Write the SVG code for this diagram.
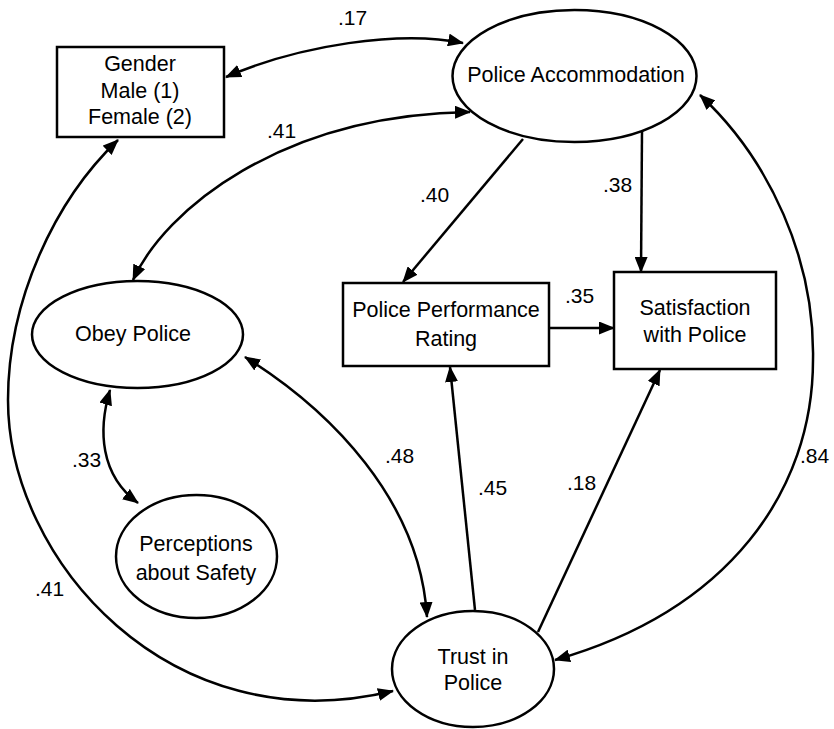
<svg xmlns="http://www.w3.org/2000/svg" width="834" height="729" viewBox="0 0 834 729">
<style>
.n{fill:#fff;stroke:#000;stroke-width:2.5}
.t{font-family:"Liberation Sans",Arial,Helvetica,sans-serif;font-size:21.5px;fill:#000;text-anchor:middle}
.l{font-family:"Liberation Sans",Arial,Helvetica,sans-serif;font-size:21px;fill:#000}
.c{fill:none;stroke:#000;stroke-width:2.5}
</style>
<defs>
<marker id="ah" viewBox="0 0 16 13" refX="15" refY="6.5" markerWidth="16" markerHeight="13" orient="auto-start-reverse" markerUnits="userSpaceOnUse">
<path d="M0,0 L16,6.5 L0,13 z" fill="#000"/>
</marker>
</defs>
<rect width="834" height="729" fill="#fff"/>
<g id="connectors">
<path class="c" d="M226,77 C300,45 400,30 463,43" marker-start="url(#ah)" marker-end="url(#ah)"/>
<path class="c" d="M133,280 C165,210 280,115 470,112" marker-start="url(#ah)" marker-end="url(#ah)"/>
<path class="c" d="M118,140 C55,200 8,300 8,400 C8,560 170,745 393,691" marker-start="url(#ah)" marker-end="url(#ah)"/>
<path class="c" d="M110,390 C98,430 100,475 138,503" marker-start="url(#ah)" marker-end="url(#ah)"/>
<path class="c" d="M245,357 C330,410 420,500 427,617" marker-start="url(#ah)" marker-end="url(#ah)"/>
<path class="c" d="M475,610 L450,367" marker-end="url(#ah)"/>
<path class="c" d="M538,632 L660,370" marker-end="url(#ah)"/>
<path class="c" d="M549,328 L614,328" marker-end="url(#ah)"/>
<path class="c" d="M523,139 L403,282" marker-end="url(#ah)"/>
<path class="c" d="M642,131 L641,272" marker-end="url(#ah)"/>
<path class="c" d="M700,95 C770,160 815,260 813,360 C813,490 730,610 555,660" marker-start="url(#ah)" marker-end="url(#ah)"/>
<text class="l" x="338" y="25">.17</text>
<text class="l" x="267" y="138">.41</text>
<text class="l" x="420" y="202">.40</text>
<text class="l" x="603" y="192">.38</text>
<text class="l" x="565" y="303">.35</text>
<text class="l" x="72" y="467">.33</text>
<text class="l" x="385" y="463">.48</text>
<text class="l" x="478" y="495">.45</text>
<text class="l" x="567" y="490">.18</text>
<text class="l" x="800" y="463">.84</text>
<text class="l" x="35" y="596">.41</text>
</g>
<g id="gender">
<rect class="n" x="57" y="47" width="167" height="90"/>
<text class="t" x="140" y="71">Gender</text>
<text class="t" x="140" y="98">Male (1)</text>
<text class="t" x="140" y="124">Female (2)</text>
</g>
<g id="police-accommodation">
<ellipse class="n" cx="574.5" cy="76" rx="122" ry="66"/>
<text class="t" x="576" y="82">Police Accommodation</text>
</g>
<g id="obey-police">
<ellipse class="n" cx="137.5" cy="334.5" rx="105.5" ry="53.5"/>
<text class="t" x="133" y="341">Obey Police</text>
</g>
<g id="police-performance">
<rect class="n" x="343" y="283" width="206" height="83"/>
<text class="t" x="446" y="317">Police Performance</text>
<text class="t" x="446" y="346">Rating</text>
</g>
<g id="satisfaction">
<rect class="n" x="614" y="272" width="162" height="97"/>
<text class="t" x="695" y="315">Satisfaction</text>
<text class="t" x="695" y="342">with Police</text>
</g>
<g id="perceptions">
<ellipse class="n" cx="196.5" cy="556.5" rx="80.5" ry="61.5"/>
<text class="t" x="196" y="551">Perceptions</text>
<text class="t" x="196" y="580">about Safety</text>
</g>
<g id="trust">
<ellipse class="n" cx="473" cy="669" rx="81" ry="58"/>
<text class="t" x="473" y="664">Trust in</text>
<text class="t" x="473" y="690">Police</text>
</g>
</svg>
